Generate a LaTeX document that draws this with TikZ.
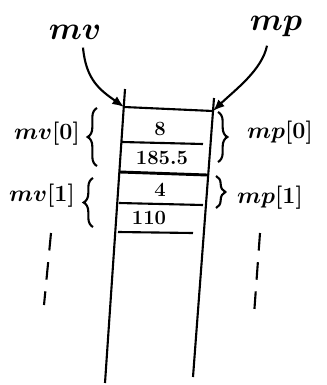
\documentclass[tikz,border=0pt]{standalone}
\usetikzlibrary{decorations.pathreplacing,arrows.meta}
\tikzset{
  lbrace/.style={decorate,decoration={brace,amplitude=8pt}},
  vdots/.style={dash pattern=on 15pt off 10pt},
  lbl/.style={font=\boldmath},
}
\begin{document}
\begin{tikzpicture}[x=0.03cm,y=-0.03cm,line width=1.8pt]
\useasboundingbox (0,0) rectangle (326,385);
% pointers
\node[lbl,scale=1.1] (mv) at (75,32) {\Huge $mv$};
\node[lbl,scale=1.1] (mp) at (276,26) {\Huge $mp$};
\coordinate (tl) at (124,107);
\coordinate (tr) at (213,111);
\draw[-{Latex[length=10pt,width=8pt]}] (mv.south) ++(8,3) .. controls (86,80) and (100,90) .. (tl);
\draw[-{Latex[length=10pt,width=8pt]}] (mp.south) ++(-9,4) .. controls (262,70) and (235,90) .. (tr);
% the array
\draw (125,89) -- (105,383);
\draw (214,98) -- (193,377);
\draw (tl) -- (tr);
\draw (122,142) -- (203,144);
\draw[line width=2.5pt] (120,172) -- (207,175);
\draw (119,203) -- (203,205);
\draw (118,232) -- (193,233);
\node[lbl] (v0) at (160,129) {\LARGE $8$};
\node[lbl] (v1) at (162,158) {\LARGE $185.5$};
\node[lbl] (v2) at (160,190) {\LARGE $4$};
\node[lbl] (v3) at (149,218) {\LARGE $110$};
% element labels
\draw[lbrace] (97,166) -- (97,108);
\draw[lbrace] (93,227) -- (93,178);
\draw[lbrace] (218,112) -- (218,162);
\draw[lbrace] (216,176) -- (216,208);
\node[lbl,scale=1.15] (mv0) at (47,134) {\LARGE $mv[0]$};
\node[lbl,scale=1.15] (mv1) at (42,196) {\LARGE $mv[1]$};
\node[lbl,scale=1.15] (mp0) at (280,133) {\LARGE $mp[0]$};
\node[lbl,scale=1.15] (mp1) at (270,198) {\LARGE $mp[1]$};
\draw[vdots] (51,233) -- (44,305);
\draw[vdots] (260,233) -- (254,315);
\end{tikzpicture}
\end{document}
